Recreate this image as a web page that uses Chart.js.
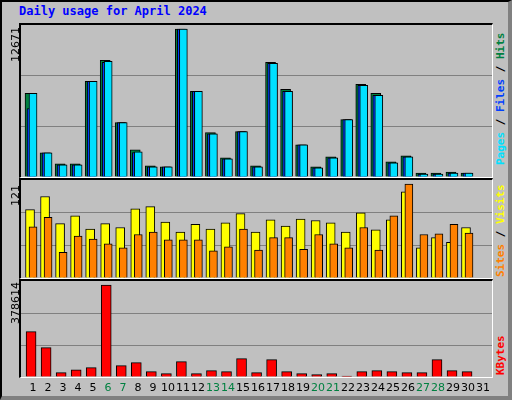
<!DOCTYPE html>
<html lang="en">
<head>
<meta charset="UTF-8">
<title>Daily usage for April 2024</title>
<script src="https://cdn.jsdelivr.net/npm/chart.js"></script>
<style>
  body { margin: 0; width: 512px; height: 400px; background: #fff; }
  #frame { position: absolute; left: 0; top: 0; width: 506px; height: 394px; background: #c0c0c0;
           border-top: 2px solid #000; border-left: 2px solid #000; border-right: 4px solid #808080; border-bottom: 4px solid #808080; box-sizing: content-box; }
  .panel { position: absolute; left: 19px; width: 471px; border-top: 2px solid #000; border-left: 2px solid #000; border-right: 1px solid #fff; border-bottom: 1px solid #fff; }
  .panel canvas { display: block; }
  .vt { position: absolute; transform: rotate(-90deg); transform-origin: left top; white-space: nowrap; font: 11px "DejaVu Sans", sans-serif; }
  .rt { font: bold 11px "DejaVu Sans Mono", monospace; }
  .day { position: absolute; top: 381px; font: 11px "DejaVu Sans", sans-serif; transform: translateX(-50%); }
  h1 { position: absolute; left: 19px; top: 4px; margin: 0; font: bold 12px "DejaVu Sans Mono", monospace; color: #0000ff; }
</style>
</head>
<body>
<div id="frame"></div>
<h1>Daily usage for April 2024</h1>
<div class="panel" style="top:23px;height:152px"><canvas id="c1" width="471" height="152"></canvas></div>
<div class="panel" style="top:178px;height:98px"><canvas id="c2" width="471" height="98"></canvas></div>
<div class="panel" style="top:279px;height:96px"><canvas id="c3" width="471" height="96"></canvas></div>
<div class="vt" style="left:9px;top:62px">12671</div>
<div class="vt" style="left:9px;top:206px">121</div>
<div class="vt" style="left:9px;top:324px">378614</div>
<div class="vt rt" style="left:494px;top:165px"><span style="color:#00e0ff">Pages</span> / <span style="color:#0040ff">Files</span> / <span style="color:#008040">Hits</span></div>
<div class="vt rt" style="left:494px;top:277px"><span style="color:#ff8000">Sites</span> / <span style="color:#ffff00">Visits</span></div>
<div class="vt rt" style="left:494px;top:375px"><span style="color:#ff0000">KBytes</span></div>
<script>
const days = [1,2,3,4,5,6,7,8,9,10,11,12,13,14,15,16,17,18,19,20,21,22,23,24,25,26,27,28,29,30,31];
const weekend = [6,7,13,14,20,21,27,28];
const hits   = [7155,2069,1121,1121,8189,9999,4655,2327,948,862,12671,7327,3793,1638,3879,948,9827,7499,2758,862,1724,4913,7930,7155,1293,1810,345,345,431,345,0];
const files  = [5862,2069,1035,1035,8189,9827,4655,2100,862,862,12671,7327,3707,1550,3879,862,9741,7327,2758,776,1638,4913,7844,6983,1207,1724,259,259,345,345,0];
const pages  = [7155,2069,1035,1035,8189,9913,4655,2155,862,862,12671,7327,3707,1550,3879,862,9741,7327,2758,776,1638,4913,7844,6983,1207,1724,259,259,345,345,0];
const visits = [88,105,70,80,63,70,65,89,92,72,59,69,63,71,83,59,75,67,76,74,71,59,84,62,75,111,39,52,46,65,0];
const sites  = [66,78,33,54,50,44,39,56,59,49,49,49,35,40,63,36,52,52,37,56,44,39,65,36,80,121,56,57,69,58,0];
const kbytes = [187000,121000,18000,30000,38500,378614,46700,59000,22000,13600,63000,13600,26000,22000,75600,18000,71500,22000,13600,9500,13600,4000,22000,26000,22000,18000,18000,71500,26000,22000,0];

function pts(vals, off) { return vals.map((v, i) => ({ x: days[i] + off, y: v })); }
function ds(vals, off, w, color) {
  return { data: pts(vals, off), backgroundColor: color, borderColor: '#000', borderWidth: 1, borderSkipped: 'bottom', barThickness: w, grouped: false };
}
function make(id, datasets, max) {
  new Chart(document.getElementById(id), {
    type: 'bar',
    data: { datasets: datasets },
    options: {
      responsive: false, animation: false, events: [],
      layout: { padding: 0 },
      plugins: { legend: { display: false }, tooltip: { enabled: false } },
      scales: {
        x: { type: 'linear', min: 0.2, max: 31.53, offset: false, display: false },
        y: { min: 0, max: max, display: true, border: { display: false },
             ticks: { display: false, stepSize: max / 3 },
             grid: { drawTicks: false, color: c => (c.index === 1 || c.index === 2) ? '#808080' : 'rgba(0,0,0,0)', lineWidth: 1 } }
      }
    }
  });
}
make('c1', [ds(pages, 0, 8, '#00e0ff'), ds(files, -0.1, 9, '#0040ff'), ds(hits, -0.2, 10, '#008040')], 12671 * 151 / 147);
make('c2', [ds(sites, 0, 8, '#ff8000'), ds(visits, -0.2, 9, '#ffff00')], 121 * 97 / 93);
make('c3', [ds(kbytes, -0.13, 10, '#ff0000')], 378614 * 95 / 91);

days.forEach(d => {
  const s = document.createElement('div');
  s.className = 'day';
  s.textContent = d;
  s.style.left = (21 + 15 * (d - 0.2)) + 'px';
  s.style.color = weekend.includes(d) ? '#008040' : '#000';
  document.body.appendChild(s);
});
</script>
</body>
</html>
